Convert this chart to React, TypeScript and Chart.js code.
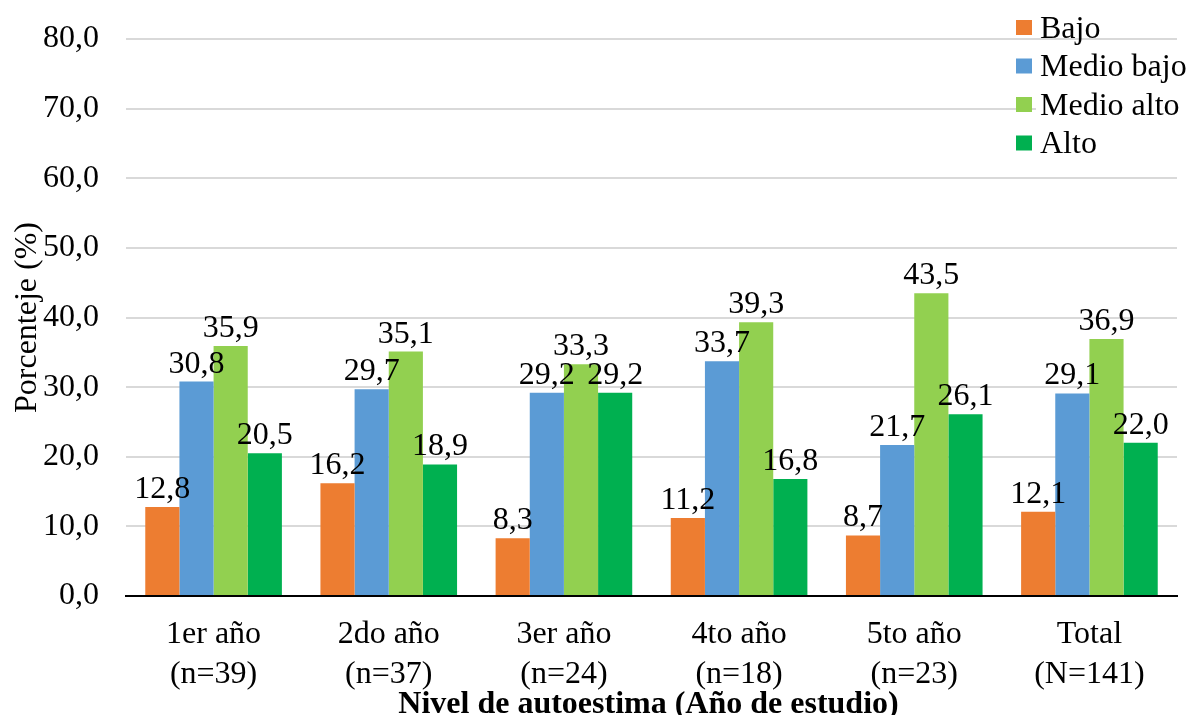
import React, { useEffect, useRef } from "react";
import { Chart, registerables } from "chart.js";

Chart.register(...registerables);

const categories: string[][] = [
  ["1er año", "(n=39)"],
  ["2do año", "(n=37)"],
  ["3er año", "(n=24)"],
  ["4to año", "(n=18)"],
  ["5to año", "(n=23)"],
  ["Total", "(N=141)"],
];
const seriesNames = ["Bajo", "Medio bajo", "Medio alto", "Alto"];
const bajo = [12.8, 16.2, 8.3, 11.2, 8.7, 12.1];
const medioBajo = [30.8, 29.7, 29.2, 33.7, 21.7, 29.1];
const medioAlto = [35.9, 35.1, 33.3, 39.3, 43.5, 36.9];
const alto = [20.5, 18.9, 29.2, 16.8, 26.1, 22.0];
const colors = ["#ED7D31", "#5B9BD5", "#92D050", "#00B050"];
const yTitle = "Porcenteje (%)";
const xTitle = "Nivel de autoestima (Año de estudio)";

const FONT = '"Liberation Serif", "Times New Roman", serif';
const FS = 32;
const fmt = (v: number) => v.toFixed(1).replace(".", ",");

const dataLabels = {
  id: "dataLabels",
  afterDatasetsDraw(chart: any) {
    const ctx = chart.ctx;
    ctx.save();
    ctx.font = `${FS}px ${FONT}`;
    ctx.fillStyle = "#000";
    ctx.textAlign = "center";
    ctx.textBaseline = "alphabetic";
    chart.data.datasets.forEach((ds: any, i: number) => {
      const meta = chart.getDatasetMeta(i);
      meta.data.forEach((el: any, j: number) => {
        ctx.fillText(fmt(ds.data[j]), el.x, el.y - 9);
      });
    });
    ctx.restore();
  },
};

const xAxisTitle = {
  id: "xAxisTitle",
  afterDraw(chart: any) {
    const ctx = chart.ctx;
    const area = chart.chartArea;
    ctx.save();
    ctx.font = `bold ${FS}px ${FONT}`;
    ctx.fillStyle = "#000";
    ctx.textAlign = "center";
    ctx.textBaseline = "alphabetic";
    ctx.fillText(xTitle, (area.left + area.right) / 2 - 3, chart.height - 2);
    ctx.restore();
  },
};

const customLegend = {
  id: "customLegend",
  afterDraw(chart: any) {
    const ctx = chart.ctx;
    const area = chart.chartArea;
    ctx.save();
    ctx.fillStyle = "#fff";
    ctx.fillRect(area.right - 141, 50, 153, 112);
    ctx.font = `${FS}px ${FONT}`;
    ctx.textAlign = "left";
    ctx.textBaseline = "alphabetic";
    chart.data.datasets.forEach((ds: any, i: number) => {
      const cy = 27.5 + i * 38.5;
      const bx = area.right - 161;
      ctx.fillStyle = ds.backgroundColor;
      ctx.fillRect(bx, cy - 7.5, 16, 15);
      ctx.fillStyle = "#000";
      ctx.fillText(ds.label, bx + 24, cy + 10);
    });
    ctx.restore();
  },
};

export default function App() {
  const ref = useRef<HTMLCanvasElement>(null);
  useEffect(() => {
    if (!ref.current) return;
    const seriesData = [bajo, medioBajo, medioAlto, alto];
    const chart = new Chart(ref.current, {
      type: "bar",
      data: {
        labels: categories,
        datasets: seriesNames.map((name, i) => ({
          label: name,
          data: seriesData[i],
          backgroundColor: colors[i],
          borderWidth: 0,
          categoryPercentage: 0.78,
          barPercentage: 1,
        })),
      },
      options: {
        responsive: false,
        animation: false,
        layout: { padding: { top: 39, right: 12, left: 0, bottom: 0 } },
        plugins: {
          legend: { display: false },
          tooltip: { enabled: false },
        },
        scales: {
          x: {
            grid: { display: false, drawTicks: false },
            border: { display: true, color: "#000", width: 2 },
            ticks: {
              color: "#000",
              padding: 19,
              font: { family: FONT, size: FS, lineHeight: 40 / FS },
              maxRotation: 0,
              autoSkip: false,
            },
            title: { display: false },
            afterFit: (s: any) => {
              s.height = 119;
            },
          },
          y: {
            min: 0,
            max: 80,
            ticks: {
              stepSize: 10,
              color: "#000",
              padding: 27,
              font: { family: FONT, size: FS },
              callback: (v: any) => fmt(Number(v)),
            },
            grid: { color: "#d9d9d9", lineWidth: 2, drawTicks: false },
            border: { display: false },
            title: {
              display: true,
              text: yTitle,
              color: "#000",
              font: { family: FONT, size: FS, lineHeight: 1.2 },
              padding: { top: 8, bottom: 0 },
            },
            afterFit: (s: any) => {
              s.width = 126;
              s.paddingTop = 0;
              s.paddingBottom = 0;
            },
          },
        },
      },
      plugins: [dataLabels, customLegend, xAxisTitle],
    } as any);
    return () => chart.destroy();
  }, []);
  return (
    <div style={{ position: "absolute", left: 0, top: 0, width: 1189, height: 715, background: "#fff" }}>
      <canvas ref={ref} width={1189} height={715} />
    </div>
  );
}
